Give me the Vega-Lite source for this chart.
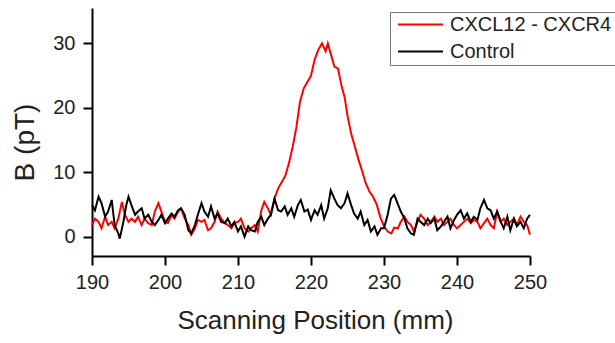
{
  "$schema": "https://vega.github.io/schema/vega-lite/v6.json",
  "width": 438,
  "height": 248,
  "autosize": "none",
  "padding": {"left": 92, "top": 8, "right": 85, "bottom": 87},
  "background": "white",
  "config": {
    "view": {"stroke": null},
    "font": "Liberation Sans",
    "axis": {"grid": false, "domainColor": "#000", "domainWidth": 2, "tickColor": "#000", "tickWidth": 2, "labelColor": "#222", "titleColor": "#222", "labelFont": "Liberation Sans", "titleFont": "Liberation Sans", "titleFontWeight": "normal"}
  },
  "datasets": {
    "red": [
      [190.0,1.8],[190.4,2.8],[190.9,2.3],[191.3,1.3],[191.8,3.1],[192.2,1.8],[192.7,2.3],[193.1,1.3],[193.6,2.8],[194.1,5.4],[194.5,3.4],[195.0,2.3],[195.4,2.8],[195.9,2.3],[196.3,3.1],[196.8,1.8],[197.2,2.8],[197.7,2.1],[198.2,1.8],[198.6,3.9],[199.1,5.2],[199.5,3.9],[200.0,2.3],[200.4,2.1],[200.9,3.4],[201.3,2.8],[201.8,3.9],[202.2,4.4],[202.7,2.8],[203.2,1.8],[203.6,0.3],[204.1,1.3],[204.5,2.6],[205.0,2.3],[205.4,2.6],[205.9,1.0],[206.3,1.3],[206.8,2.3],[207.2,3.9],[207.7,2.8],[208.2,2.1],[208.6,1.8],[209.1,1.3],[209.5,2.1],[210.0,2.3],[210.4,2.8],[210.9,1.3],[211.4,0.8],[211.8,1.3],[212.3,1.8],[212.7,0.8],[213.2,4.1],[213.6,5.4],[214.1,4.4],[214.5,3.4],[215.0,5.9],[215.5,7.5],[216.0,8.5],[216.5,9.5],[217.0,11.5],[217.5,14.0],[218.0,17.0],[218.5,21.0],[219.0,23.0],[219.5,24.0],[220.0,25.0],[220.5,27.5],[221.0,29.0],[221.5,30.0],[222.0,28.8],[222.3,30.0],[222.8,28.0],[223.2,26.4],[223.7,26.1],[224.2,23.3],[224.6,21.7],[225.0,18.8],[225.5,16.0],[226.0,14.0],[226.5,12.0],[227.0,10.2],[227.5,8.3],[228.0,7.0],[228.5,6.2],[229.0,5.0],[229.5,3.0],[230.0,1.6],[230.5,0.8],[231.0,0.5],[231.4,1.4],[231.9,1.3],[232.3,2.3],[232.8,3.1],[233.2,2.3],[233.7,1.8],[234.1,0.8],[234.6,2.3],[235.0,3.4],[235.5,2.8],[236.0,1.8],[236.4,2.3],[236.9,3.1],[237.3,2.3],[237.8,2.8],[238.2,1.8],[238.7,2.3],[239.1,2.8],[239.6,1.8],[240.0,1.3],[240.5,1.8],[240.95,2.3],[241.4,2.8],[241.9,2.1],[242.3,2.6],[242.8,2.3],[243.2,1.3],[243.7,2.1],[244.15,2.8],[244.6,1.8],[245.05,1.3],[245.5,3.9],[246.0,2.3],[246.4,2.8],[246.9,1.8],[247.3,2.3],[247.8,2.8],[248.2,1.8],[248.7,3.1],[249.15,2.3],[249.6,1.8],[250.0,0.3]
    ],
    "black": [
      [190.0,4.9],[190.4,4.1],[190.9,6.2],[191.3,5.2],[191.8,3.1],[192.2,3.9],[192.7,5.7],[193.1,1.8],[193.6,0.5],[193.8,-0.3],[194.3,2.3],[194.7,4.9],[195.0,6.2],[195.4,4.9],[195.9,3.4],[196.3,3.9],[196.8,4.4],[197.2,2.8],[197.7,3.4],[198.2,2.3],[198.6,1.8],[199.1,2.6],[199.5,3.4],[200.0,2.1],[200.4,2.8],[200.9,3.6],[201.3,3.1],[201.8,4.1],[202.2,4.4],[202.7,3.4],[203.2,1.0],[203.6,0.5],[204.1,1.8],[204.5,3.4],[205.0,5.2],[205.4,3.9],[205.9,3.1],[206.3,4.7],[206.8,2.8],[207.2,3.6],[207.7,2.3],[208.2,2.1],[208.6,2.8],[209.1,1.6],[209.5,2.3],[210.0,0.8],[210.4,1.6],[210.9,0.0],[211.4,1.6],[211.8,1.0],[212.3,0.8],[212.7,2.3],[213.2,3.1],[213.6,1.8],[214.1,2.8],[214.5,3.4],[215.0,5.9],[215.5,4.1],[215.9,3.9],[216.4,4.7],[216.8,3.4],[217.3,4.4],[217.7,3.1],[218.2,4.9],[218.6,5.7],[219.1,3.9],[219.55,4.2],[220.0,2.6],[220.5,4.1],[220.9,3.4],[221.4,4.9],[221.8,2.8],[222.3,4.4],[222.7,7.2],[223.2,5.9],[223.65,4.9],[224.1,4.4],[224.6,5.2],[225.0,6.7],[225.5,4.9],[225.9,3.6],[226.4,2.8],[226.8,3.9],[227.3,1.8],[227.75,2.6],[228.2,0.8],[228.7,1.6],[229.1,0.3],[229.6,1.3],[230.0,1.3],[230.5,3.4],[230.95,5.9],[231.4,6.5],[231.85,5.2],[232.3,3.9],[232.8,2.8],[233.2,1.3],[233.7,0.5],[234.1,0.3],[234.6,2.8],[235.0,2.3],[235.5,1.8],[236.0,2.8],[236.4,2.1],[236.9,2.8],[237.3,1.0],[237.8,1.6],[238.2,2.3],[238.7,3.1],[239.1,1.3],[239.6,2.6],[240.0,3.4],[240.5,4.1],[240.95,2.8],[241.4,3.6],[241.9,2.3],[242.3,3.1],[242.8,2.6],[243.2,4.4],[243.7,5.7],[244.15,4.4],[244.6,4.1],[245.05,2.8],[245.5,3.9],[246.0,2.3],[246.4,1.3],[246.9,3.1],[247.3,1.0],[247.8,2.8],[248.2,1.6],[248.7,2.3],[249.15,1.3],[249.6,2.8],[250.0,3.4]
    ]
  },
  "layer": [
    {
      "data": {"name": "red"},
      "transform": [
        {"calculate": "datum[0]", "as": "position"},
        {"calculate": "datum[1]", "as": "B"},
        {"calculate": "'CXCL12 - CXCR4'", "as": "series"}
      ],
      "mark": {"type": "line", "strokeWidth": 2, "interpolate": "linear"},
      "encoding": {
        "x": {"field": "position", "type": "quantitative"},
        "y": {"field": "B", "type": "quantitative"},
        "color": {"field": "series", "type": "nominal"}
      }
    },
    {
      "data": {"name": "black"},
      "transform": [
        {"calculate": "datum[0]", "as": "position"},
        {"calculate": "datum[1]", "as": "B"},
        {"calculate": "'Control'", "as": "series"}
      ],
      "mark": {"type": "line", "strokeWidth": 2, "interpolate": "linear"},
      "encoding": {
        "x": {
          "field": "position", "type": "quantitative",
          "scale": {"domain": [190, 250], "nice": false, "zero": false},
          "axis": {
            "title": "Scanning Position (mm)", "titleFontSize": 26, "titlePadding": 15, "titleX": 223,
            "values": [190,195,200,205,210,215,220,225,230,235,240,245,250],
            "labelExpr": "datum.value % 10 === 0 ? datum.label : ''",
            "tickSize": {"condition": {"test": "datum.value % 10 === 0", "value": 9}, "value": 5},
            "labelFontSize": 20, "labelPadding": 7, "labelFlush": false, "labelOverlap": false
          }
        },
        "y": {
          "field": "B", "type": "quantitative",
          "scale": {"domain": [-3, 35.5], "nice": false, "zero": false},
          "axis": {
            "title": "B (pT)", "titleFontSize": 28,
            "titleX": -67, "titleY": 134, "titleAngle": -90, "titleAlign": "center", "titleBaseline": "middle",
            "values": [0,5,10,15,20,25,30,35],
            "labelExpr": "datum.value % 10 === 0 ? datum.label : ''",
            "tickSize": {"condition": {"test": "datum.value % 10 === 0", "value": 9}, "value": 5},
            "labelFontSize": 20, "labelPadding": 8, "labelOverlap": false
          }
        },
        "color": {
          "field": "series", "type": "nominal",
          "scale": {"domain": ["CXCL12 - CXCR4", "Control"], "range": ["#ff0000", "#000000"]},
          "legend": {
            "title": null, "orient": "none", "legendX": 298, "legendY": 4,
            "symbolType": "stroke", "symbolSize": 2025, "symbolStrokeWidth": 2,
            "clipHeight": 19, "rowPadding": 6, "padding": 3, "symbolOffset": 4,
            "labelOffset": 6, "labelFontSize": 20, "labelFont": "Liberation Sans", "labelColor": "#222", "labelLimit": 300,
            "strokeColor": "#777", "fillColor": "white"
          }
        }
      }
    }
  ]
}
